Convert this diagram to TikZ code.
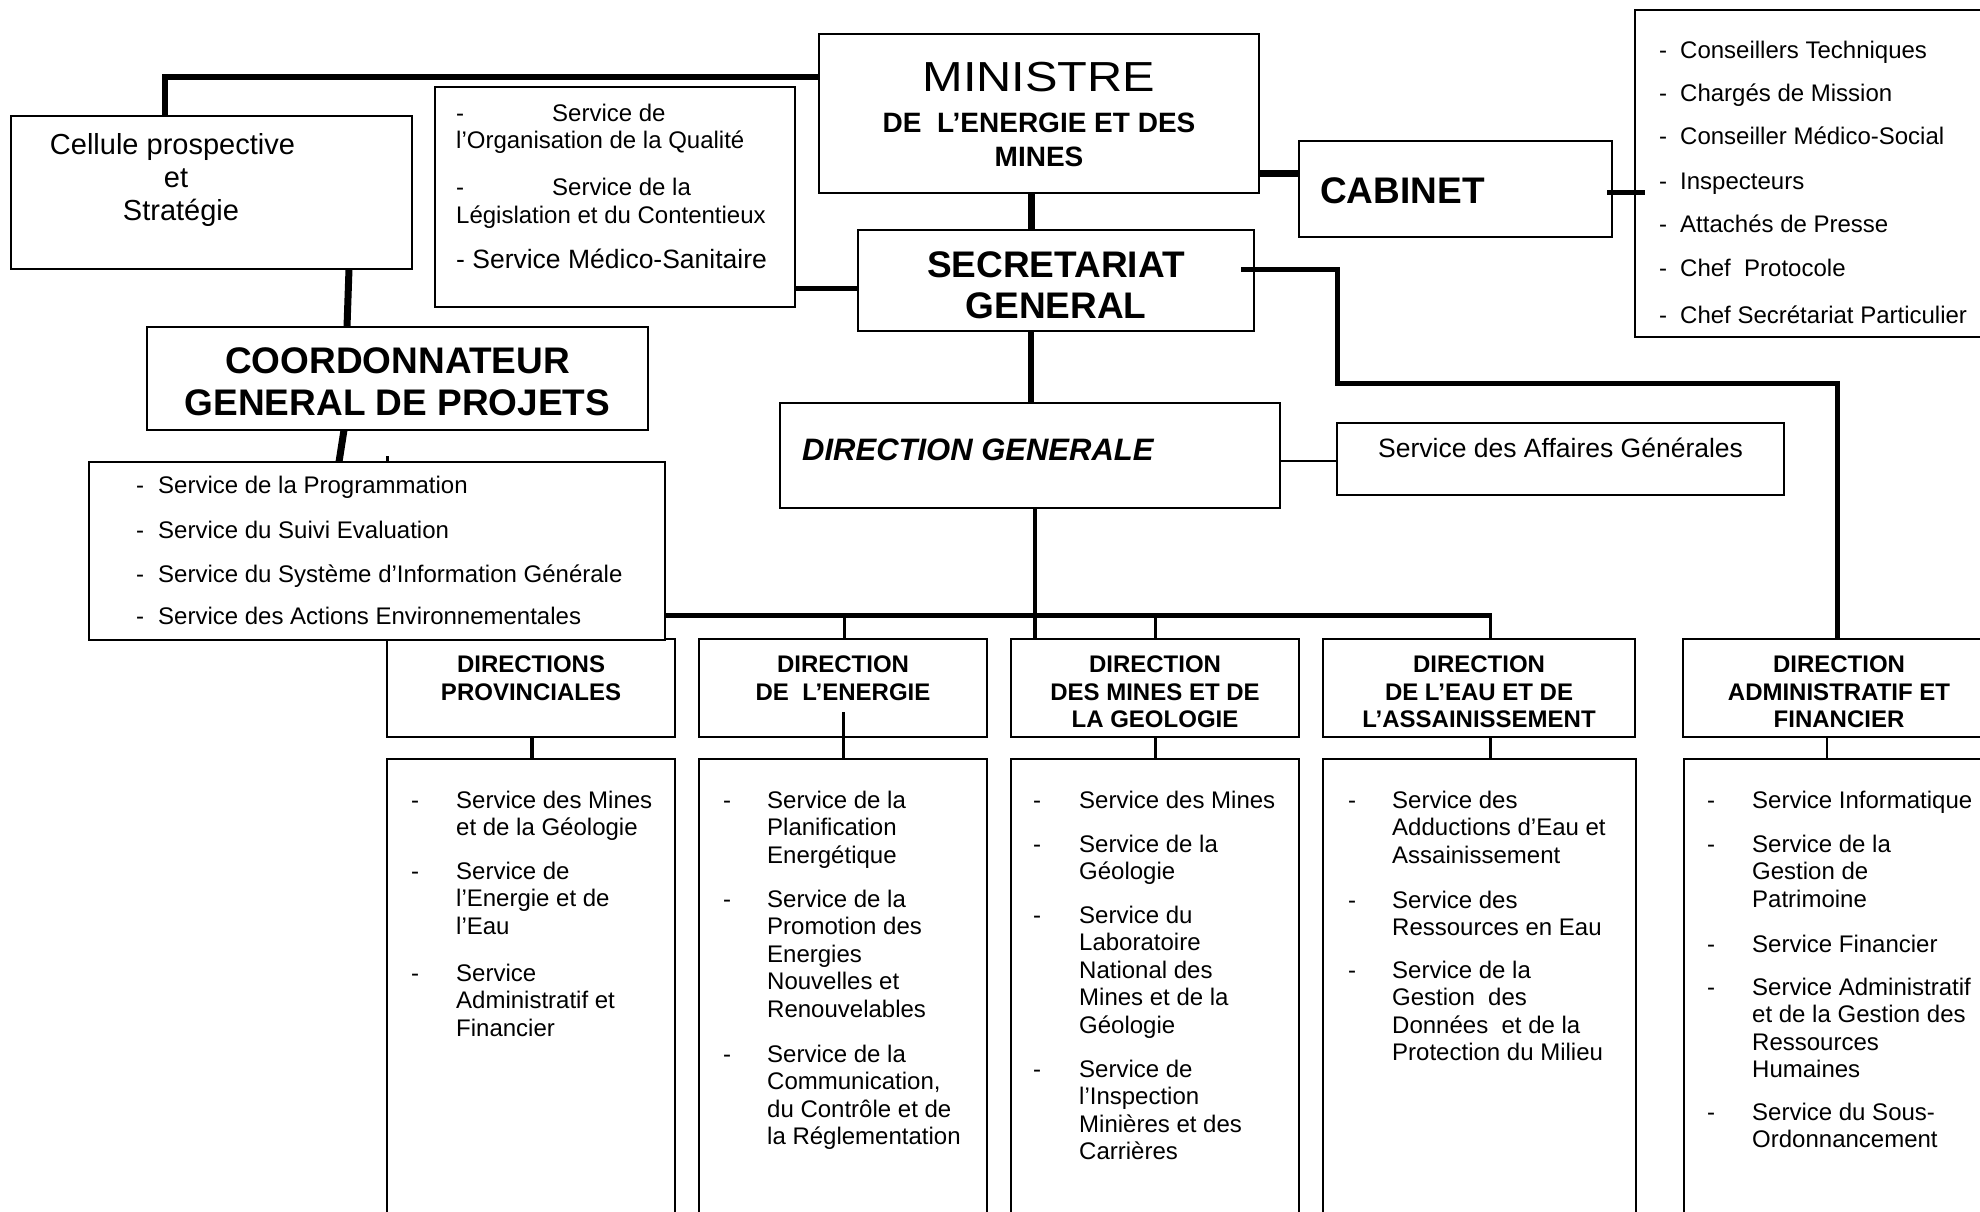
\documentclass[tikz,border=0pt]{standalone}
\usepackage{fontspec}
\setmainfont{Liberation Sans}
\usetikzlibrary{calc}
\tikzset{
  box/.style={draw, line width=2pt, inner sep=0pt, outer sep=0pt, rectangle},
  con/.style={draw, line width=#1},
  t24/.style={inner sep=0pt, anchor=base west, font=\fontsize{24}{27.5}\selectfont},
  hd24/.style={inner sep=0pt, anchor=base, font=\bfseries\fontsize{24}{27.5}\selectfont},
  big/.style={inner sep=0pt, anchor=base, font=\bfseries\fontsize{37}{40}\selectfont},
}
\newcommand\bx[6][]{\node[box,#1, minimum width={#5-#3}, minimum height={#6-#4}] (#2) at ({(#3+#5)/2},{(#4+#6)/2}) {};}
\newcommand\svc[5]{%
  \node[t24] (#1d) at (#2,#4) {-};
  \foreach \tx [count=\i from 0] in {#5} {\node[t24] (#1l\i) at (#3,{#4+27.5*\i}) {\tx};}%
}
\begin{document}
\begin{tikzpicture}[x=1pt,y=-1pt]
\useasboundingbox (0,0) rectangle (1980,1212);
\fill[white] (0,0) rectangle (1980,1212);
\clip (0,0) rectangle (1980,1212);

% ---------- boxes ----------
\bx{cel}{11}{116}{412}{269}
\bx{qsm}{435}{87}{795}{307}
\bx{min}{819}{34}{1259}{193}
\bx{cab}{1299}{141}{1612}{237}
\bx{cablist}{1635}{10}{2010}{337}
\bx{sg}{858}{230}{1254}{331}
\bx{coord}{147}{327}{648}{430}
\bx{dg}{780}{403}{1280}{508}
\bx{sag}{1337}{423}{1784}{495}
\bx{dp}{387}{639}{675}{737}
\bx{de}{699}{639}{987}{737}
\bx{dmg}{1011}{639}{1299}{737}
\bx{dea}{1323}{639}{1635}{737}
\bx{daf}{1683}{639}{1995}{737}
\bx{dps}{387}{759}{675}{1260}
\bx{des}{699}{759}{987}{1260}
\bx{dmgs}{1011}{759}{1299}{1260}
\bx{deas}{1323}{759}{1636}{1260}
\bx{dafs}{1684}{759}{1995}{1260}
\bx[fill=white]{cgplist}{89}{462}{665}{640}
\coordinate (bus) at (0,615);

% ---------- connectors ----------
\draw[con=6pt] ([xshift=-46.5pt]cel.north) |- (min.west |- 0,77);
\draw[con=7pt] ([xshift=137.5pt]cel.south) -- ([xshift=-50.5pt]coord.north);
\draw[con=7pt] ([xshift=-53.5pt]coord.south) -- ([xshift=-38pt]cgplist.north);
\draw[con=3pt] ([xshift=10.5pt]cgplist.north) -- ++(0,-6);
\draw[con=5pt] (qsm.east |- 0,288) -- (sg.west |- 0,288);
\draw[con=7pt] (min.east |- 0,173) -- (cab.west |- 0,173);
\draw[con=7pt] (1031,0 |- min.south) -- (1031,0 |- sg.north);
\draw[con=5pt] ($(cab.east)+(-5,3)$) -- ($(cablist.west |- 0,192)+(10,0)$);
\draw[con=5pt] ($(sg.east)+(-13,-11.5)$) -- (1337,269) |- (1837,383) -- (1837,0 |- daf.north);
\draw[con=6pt] (1031,0 |- sg.south) -- (1031,0 |- dg.north);
\draw[con=2.5pt] (dg.east |- 0,461) -- (sag.west |- 0,461);
\draw[con=4pt] (1035,0 |- dg.south) -- (1035,0 |- dmg.north);
\draw[con=5pt] (cgplist.east |- bus) -- (1492,0 |- bus);
\draw[con=3pt] (844,0 |- bus) -- (844,0 |- de.north);
\draw[con=3pt] (1155,0 |- bus) -- (1155,0 |- dmg.north);
\draw[con=3pt] (1490,0 |- bus) -- (1490,0 |- dea.north);
\draw[con=4pt] (532,0 |- dp.south) -- (532,0 |- dps.north);
\draw[con=3pt] (843,712) -- (843,0 |- des.north);
\draw[con=3pt] (1155,0 |- dmg.south) -- (1155,0 |- dmgs.north);
\draw[con=3pt] (1490,0 |- dea.south) -- (1490,0 |- deas.north);
\draw[con=1.6pt] (1827,0 |- daf.south) -- (1827,0 |- dafs.north);

% ---------- texts ----------
\node[inner sep=0pt, anchor=base, font=\fontsize{29}{33}\selectfont] (celt1) at (172.5,154) {Cellule prospective};
\node[inner sep=0pt, anchor=base, font=\fontsize{29}{33}\selectfont] (celt2) at (176,187) {et};
\node[inner sep=0pt, anchor=base, font=\fontsize{29}{33}\selectfont] (celt3) at (181,220) {Stratégie};

\node[t24] (q1d) at (456,122) {-};
\node[t24] (q1) at (552,122) {Service de};
\node[t24] (q2) at (456,149) {l’Organisation de la Qualité};
\node[t24] (q3d) at (456,195) {-};
\node[t24] (q3) at (552,195) {Service de la};
\node[t24] (q4) at (456,223) {Législation et du Contentieux};
\node[inner sep=0pt, anchor=base west, font=\fontsize{26.5}{30}\selectfont] (q5) at (456,268) {- Service Médico-Sanitaire};

\node[inner sep=0pt, anchor=base] (mint) at (1039,92) {\scalebox{1.16}[1]{\fontsize{42}{44}\selectfont MINISTRE}};
\node[inner sep=0pt, anchor=base, font=\bfseries\fontsize{28}{32}\selectfont] (min2) at (1039,132) {DE\ \ L’ENERGIE ET DES};
\node[inner sep=0pt, anchor=base, font=\bfseries\fontsize{28}{32}\selectfont] (min3) at (1039,166) {MINES};

\node[big, anchor=base west] (cabt) at (1320,203) {CABINET};
\node[big] (sg1) at (1056,277) {SECRETARIAT};
\node[big] (sg2) at (1056,318) {GENERAL};
\node[big] (co1) at (397.5,373) {COORDONNATEUR};
\node[big] (co2) at (397.5,415) {GENERAL DE PROJETS};
\node[inner sep=0pt, anchor=base west, font=\bfseries\itshape\fontsize{31}{34}\selectfont] (dgt) at (802,460) {DIRECTION GENERALE};
\node[inner sep=0pt, anchor=base west, font=\fontsize{26.5}{30}\selectfont] (sagt) at (1378,457) {Service des Affaires Générales};

% cabinet list
\foreach \tx/\yy [count=\i] in {Conseillers Techniques/59, Chargés de Mission/102, Conseiller Médico-Social/145, Inspecteurs/189, Attachés de Presse/232, Chef\ \ Protocole/276, Chef Secrétariat Particulier/323}
  {\node[t24] (cbd\i) at (1659,\yy) {-}; \node[t24] (cb\i) at (1680,\yy) {\tx};}

% coordination list
\foreach \tx/\yy [count=\i] in {Service de la Programmation/493, Service du Suivi Evaluation/538, Service du Système d’Information Générale/582, Service des Actions Environnementales/624}
  {\node[t24] (cgd\i) at (136,\yy) {-}; \node[t24] (cg\i) at (158,\yy) {\tx};}

% direction headings
\node[hd24] (dp1) at (531,672) {DIRECTIONS};
\node[hd24] (dp2) at (531,700) {PROVINCIALES};
\node[hd24] (de1) at (843,672) {DIRECTION};
\node[hd24] (de2) at (843,700) {DE\ \ L’ENERGIE};
\node[hd24] (dm1) at (1155,672) {DIRECTION};
\node[hd24] (dm2) at (1155,700) {DES MINES ET DE};
\node[hd24] (dm3) at (1155,727) {LA GEOLOGIE};
\node[hd24] (ea1) at (1479,672) {DIRECTION};
\node[hd24] (ea2) at (1479,700) {DE L’EAU ET DE};
\node[hd24] (ea3) at (1479,727) {L’ASSAINISSEMENT};
\node[hd24] (af1) at (1839,672) {DIRECTION};
\node[hd24] (af2) at (1839,700) {ADMINISTRATIF ET};
\node[hd24] (af3) at (1839,727) {FINANCIER};

% services
\svc{pa}{411}{456}{808}{Service des Mines, et de la Géologie}
\svc{pb}{411}{456}{879}{Service de, l’Energie et de, l’Eau}
\svc{pc}{411}{456}{981}{Service, Administratif et, Financier}

\svc{ea}{723}{767}{808}{Service de la, Planification, Energétique}
\svc{eb}{723}{767}{907}{Service de la, Promotion des, Energies, Nouvelles et, Renouvelables}
\svc{ec}{723}{767}{1062}{Service de la, {Communication,}, du Contrôle et de, la Réglementation}

\svc{ma}{1033}{1079}{808}{Service des Mines}
\svc{mb}{1033}{1079}{852}{Service de la, Géologie}
\svc{mc}{1033}{1079}{923}{Service du, Laboratoire, National des, Mines et de la, Géologie}
\svc{md}{1033}{1079}{1077}{Service de, l’Inspection, Minières et des, Carrières}

\svc{wa}{1348}{1392}{808}{Service des, Adductions d’Eau et, Assainissement}
\svc{wb}{1348}{1392}{908}{Service des, Ressources en Eau}
\svc{wc}{1348}{1392}{978}{Service de la, Gestion\ \ des, Données\ \ et de la, Protection du Milieu}

\svc{fa}{1707}{1752}{808}{Service Informatique}
\svc{fb}{1707}{1752}{852}{Service de la, Gestion de, Patrimoine}
\svc{fc}{1707}{1752}{952}{Service Financier}
\svc{fd}{1707}{1752}{995}{Service Administratif, et de la Gestion des, Ressources, Humaines}
\svc{fe}{1707}{1752}{1120}{Service du Sous-, Ordonnancement}
\end{tikzpicture}
\end{document}
